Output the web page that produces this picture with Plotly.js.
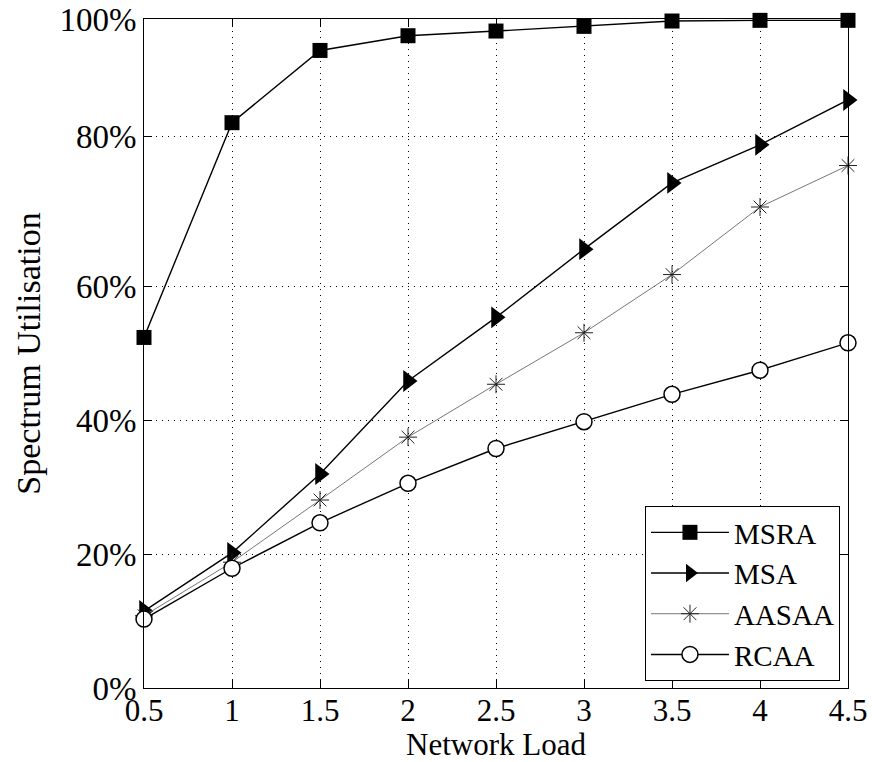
<!DOCTYPE html>
<html>
<head>
<meta charset="utf-8">
<script src="https://cdn.plot.ly/plotly-3.0.1.min.js"></script>
<style>
  html, body { margin: 0; padding: 0; background: #fff; }
  #chart { width: 872px; height: 762px; }
</style>
</head>
<body>
<div id="chart"></div>
<script>
// Network load (x)
const networkLoad = [0.5, 1, 1.5, 2, 2.5, 3, 3.5, 4, 4.5];
// Spectrum utilisation (%) per scheme
const msra  = [52.4, 84.5, 95.3, 97.5, 98.2, 98.9, 99.7, 99.8, 99.8];
const msa   = [11.5, 20.2, 32.0, 45.9, 55.4, 65.6, 75.5, 81.2, 87.9];
const aasaa = [10.8, 18.8, 28.1, 37.5, 45.4, 53.1, 61.8, 71.9, 78.1];
const rcaa  = [10.3, 17.9, 24.7, 30.6, 35.8, 39.8, 43.9, 47.5, 51.6];
// Axis ticks
const xTicks = [0.5, 1, 1.5, 2, 2.5, 3, 3.5, 4, 4.5];
const xTickText = ['0.5', '1', '1.5', '2', '2.5', '3', '3.5', '4', '4.5'];
const yTickVals = [0, 20, 40, 60, 82.4, 100];
const yTickText = ['0%', '20%', '40%', '60%', '80%', '100%'];

const FONT = 'Liberation Serif, Times New Roman, Times, serif';

const traces = [
  {
    x: networkLoad, y: msra, name: 'MSRA', type: 'scatter', mode: 'lines+markers',
    line: { color: '#000', width: 1.4 },
    marker: { symbol: 'square', size: 15, color: '#000', line: { color: '#000', width: 0 } },
    cliponaxis: false
  },
  {
    x: networkLoad, y: msa, name: 'MSA', type: 'scatter', mode: 'lines+markers',
    line: { color: '#000', width: 1.4 },
    marker: { symbol: 'triangle-right', size: 19, color: '#000', line: { color: '#000', width: 0 } },
    cliponaxis: false
  },
  {
    x: networkLoad, y: aasaa, name: 'AASAA', type: 'scatter', mode: 'lines+markers',
    line: { color: '#777', width: 1 },
    marker: { symbol: 'asterisk-open', size: 15, color: '#222', line: { color: '#222', width: 1 } },
    cliponaxis: false
  },
  {
    x: networkLoad, y: rcaa, name: 'RCAA', type: 'scatter', mode: 'lines+markers',
    line: { color: '#000', width: 1.4 },
    marker: { symbol: 'circle', size: 16, color: '#fff', line: { color: '#000', width: 1.5 } },
    cliponaxis: false
  }
];

const axisCommon = {
  showline: true, linecolor: '#000', linewidth: 1, mirror: 'ticks',
  ticks: 'inside', ticklen: 8, tickwidth: 1, tickcolor: '#000',
  showgrid: true, gridcolor: '#000', gridwidth: 1, griddash: '1px,5px',
  zeroline: false
};

const layout = {
  width: 872, height: 762,
  margin: { l: 144, r: 24, t: 19, b: 74 },
  paper_bgcolor: '#fff', plot_bgcolor: '#fff',
  font: { family: FONT, color: '#000' },
  showlegend: true,
  xaxis: Object.assign({}, axisCommon, {
    range: [0.5, 4.5], tickmode: 'array', tickvals: xTicks, ticktext: xTickText,
    tickfont: { family: FONT, size: 31, color: '#000' },
    ticklabelstandoff: -5,
    title: { text: 'Network Load', font: { family: FONT, size: 31, color: '#000' } }
  }),
  yaxis: Object.assign({}, axisCommon, {
    range: [0, 100], tickmode: 'array', tickvals: yTickVals, ticktext: yTickText,
    tickfont: { family: FONT, size: 33, color: '#000' },
    title: { text: 'Spectrum Utilisation', font: { family: FONT, size: 34, color: '#000' }, standoff: 8 }
  }),
  legend: {
    x: 0.9886, xanchor: 'right', y: 0.0105, yanchor: 'bottom',
    bgcolor: '#fff', bordercolor: '#000', borderwidth: 1,
    font: { family: FONT, size: 29, color: '#000' },
    itemwidth: 78, tracegroupgap: 0
  }
};

Plotly.newPlot('chart', traces, layout, { displayModeBar: false, staticPlot: true });
</script>
</body>
</html>
